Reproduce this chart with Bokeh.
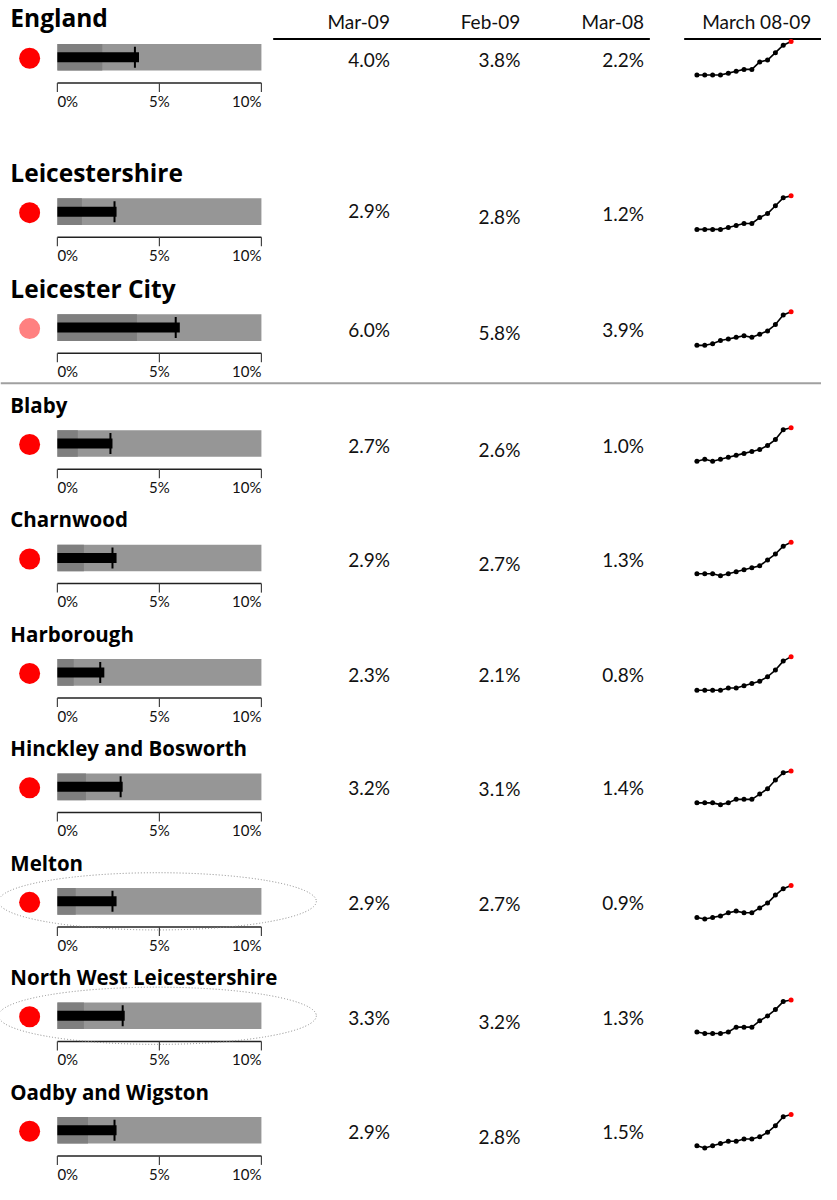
from bokeh.plotting import figure
from bokeh.models import Range1d
from bokeh.embed import file_html
from bokeh.resources import INLINE
from bokeh.core.properties import value

# ---------------- data ----------------
names = ["England", "Leicestershire", "Leicester City", "Blaby", "Charnwood",
         "Harborough", "Hinckley and Bosworth", "Melton",
         "North West Leicestershire", "Oadby and Wigston"]
mar09 = [4.0, 2.9, 6.0, 2.7, 2.9, 2.3, 3.2, 2.9, 3.3, 2.9]
feb09 = [3.8, 2.8, 5.8, 2.6, 2.7, 2.1, 3.1, 2.7, 3.2, 2.8]
mar08 = [2.2, 1.2, 3.9, 1.0, 1.3, 0.8, 1.4, 0.9, 1.3, 1.5]
column_headers = ["Mar-09", "Feb-09", "Mar-08"]
trend_header = "March 08-09"
months = list(range(13))  # Mar-08 ... Mar-09
trend_england = [2.2, 2.2, 2.2, 2.2, 2.3, 2.4, 2.5, 2.5, 2.9, 3.0, 3.4, 3.8, 4.0]
trend_leicestershire = [1.2, 1.2, 1.2, 1.2, 1.3, 1.4, 1.5, 1.5, 1.8, 2.0, 2.4, 2.8, 2.9]
trend_leicester_city = [3.9, 3.9, 4.0, 4.2, 4.3, 4.4, 4.5, 4.4, 4.6, 4.8, 5.2, 5.8, 6.0]
trend_blaby = [1.0, 1.1, 1.0, 1.1, 1.2, 1.3, 1.4, 1.5, 1.6, 1.8, 2.1, 2.6, 2.7]
trend_charnwood = [1.3, 1.3, 1.3, 1.2, 1.3, 1.4, 1.5, 1.6, 1.7, 2.0, 2.3, 2.7, 2.9]
trend_harborough = [0.8, 0.8, 0.8, 0.8, 0.9, 0.9, 1.0, 1.1, 1.2, 1.4, 1.7, 2.1, 2.3]
trend_hinckley = [1.4, 1.4, 1.4, 1.3, 1.4, 1.6, 1.6, 1.6, 1.9, 2.2, 2.7, 3.1, 3.2]
trend_melton = [0.9, 0.8, 0.9, 1.0, 1.2, 1.3, 1.2, 1.2, 1.5, 1.8, 2.3, 2.7, 2.9]
trend_nwl = [1.3, 1.2, 1.2, 1.2, 1.3, 1.6, 1.6, 1.6, 2.0, 2.3, 2.7, 3.2, 3.3]
trend_oadby = [1.5, 1.4, 1.5, 1.6, 1.7, 1.7, 1.8, 1.8, 1.9, 2.1, 2.4, 2.8, 2.9]
trends = [trend_england, trend_leicestershire, trend_leicester_city, trend_blaby,
          trend_charnwood, trend_harborough, trend_hinckley, trend_melton,
          trend_nwl, trend_oadby]
axis_ticks = [0, 5, 10]
axis_tick_labels = ["0%", "5%", "10%"]
status = ["red", "red", "pink", "red", "red", "red", "red", "red", "red", "red"]
highlighted = ["Melton", "North West Leicestershire"]

# ---------------- layout / style ----------------
W, H = 821, 1184
REF_W, REF_H = 837, 1200
SX, SY = W / REF_W, H / REF_H
TITLE_FONT = value("Open Sans")
FONT = value("Lato")
status_colors = {"red": "#ff0000", "pink": "#ff8080"}
row_centers = [57.5, 214, 331.5, 449, 565, 681, 797, 913, 1029, 1145]  # reference px
# small vertical offsets of the three value texts in each row (reference px)
value_dy = [(2.5, 2.5, 2.5), (-1, 5, 2), (1.5, 4.5, 1.5), (2, 6, 2), (2, 6, 2),
            (2, 2, 2), (1, 2, 1), (1, 2, 1), (2, 6, 2), (1, 6, 1)]
big_rows = 3
bullet_x0, bullet_px = 58, 20.8       # ref px of 0%, px per 1%
spark_x0, spark_px = 710, 8           # ref px of first month, px per month
spark_h = 34
value_right = [397, 530, 656]


def fx(v):
    return v * SX


def fy(v):
    return v * SY


p = figure(width=W, height=H, x_range=Range1d(0, W), y_range=Range1d(H, 0),
           output_backend="svg", toolbar_location=None, min_border=0,
           x_axis_type=None, y_axis_type=None)
p.grid.visible = False
p.outline_line_color = None
p.background_fill_color = "white"

bpx = bullet_px * SX
ps = -fx(bullet_x0) / bpx
p.extra_x_ranges["pct"] = Range1d(ps, ps + W / bpx)
spx = spark_px * SX
ss = -fx(spark_x0) / spx
p.extra_x_ranges["spark"] = Range1d(ss, ss + W / spx)

# header
p.text(x=[fx(v) for v in value_right], y=[fy(21)] * 3, text=column_headers,
       text_align="right", text_baseline="middle", text_font=FONT,
       text_font_size="19px", text_color="#111")
p.text(x=[fx(771)], y=[fy(21)], text=[trend_header], text_align="center",
       text_baseline="middle", text_font=FONT, text_font_size="19px", text_color="#111")
p.segment(x0=[fx(278), fx(697)], y0=[fy(39)] * 2, x1=[fx(662), fx(840)], y1=[fy(39)] * 2,
          line_color="black", line_width=2)
# separator
p.segment(x0=[0], y0=[fy(388)], x1=[W], y1=[fy(388)], line_color="#a0a0a0", line_width=2)

for i, name in enumerate(names):
    cr = row_centers[i]
    c = fy(cr)
    big = i < big_rows
    # title
    p.text(x=[fx(10)], y=[fy(cr - (40 if big else 39))], text=[name], text_align="left",
           text_baseline="middle", text_font=TITLE_FONT,
           text_font_size="24.5px" if big else "20.5px", text_font_style="bold",
           text_color="black")
    # status dot
    p.scatter(x=[fx(29.7)], y=[fy(cr + 1)], size=21, marker="circle",
              fill_color=status_colors[status[i]], line_color=None)
    # bullet
    p.hbar(y=[c], left=[0], right=[axis_ticks[-1]], height=27 * SY, x_range_name="pct",
           fill_color="#969696", line_color=None)
    p.hbar(y=[c], left=[0], right=[mar08[i]], height=27 * SY, x_range_name="pct",
           fill_color="#7f7f7f", line_color=None)
    p.hbar(y=[c], left=[0], right=[mar09[i]], height=10, x_range_name="pct",
           fill_color="black", line_color=None)
    p.segment(x0=[feb09[i]], x1=[feb09[i]], y0=[c - 10.5], y1=[c + 10.5],
              x_range_name="pct", line_color="black", line_width=2)
    # axis
    ya = fy(cr + 26)
    p.segment(x0=[axis_ticks[0]], x1=[axis_ticks[-1]], y0=[ya], y1=[ya],
              x_range_name="pct", line_color="#222", line_width=1.5)
    p.segment(x0=axis_ticks, x1=axis_ticks, y0=[ya] * 3, y1=[ya + 9] * 3,
              x_range_name="pct", line_color="#444", line_width=1.2)
    for t, lab, al in zip(axis_ticks, axis_tick_labels, ["left", "center", "right"]):
        p.text(x=[t], y=[fy(cr + 44)], text=[lab], text_align=al, text_baseline="middle",
               x_range_name="pct", text_font=FONT, text_font_size="15px",
               text_color="#111")
    # values
    vals = [mar09[i], feb09[i], mar08[i]]
    p.text(x=[fx(v) for v in value_right], y=[fy(cr + dy) for dy in value_dy[i]],
           text=[f"{v:.1f}%" for v in vals], text_align="right", text_baseline="middle",
           text_font=FONT, text_font_size="19px", text_color="#111")
    # sparkline
    tr = trends[i]
    vmin, vmax = min(tr), max(tr)
    d = (vmax - vmin) / (spark_h * SY)
    top = fy(cr - 16)
    e = vmax + top * d
    rn = f"s{i}"
    p.extra_y_ranges[rn] = Range1d(e - H * d, e)
    p.line(months, tr, x_range_name="spark", y_range_name=rn, line_color="black",
           line_width=1.6)
    p.scatter(months[:-1], tr[:-1], x_range_name="spark", y_range_name=rn, size=5,
              fill_color="black", line_color=None)
    p.scatter(months[-1:], tr[-1:], x_range_name="spark", y_range_name=rn, size=5,
              fill_color="#ff0000", line_color=None)
    # highlight ellipse
    if name in highlighted:
        p.ellipse(x=[fx(160)], y=[c], width=fx(324), height=fy(58), fill_color=None,
                  line_color="#888888", line_width=1, line_dash="1 2")

open("out.html", "w").write(file_html(p, INLINE))
